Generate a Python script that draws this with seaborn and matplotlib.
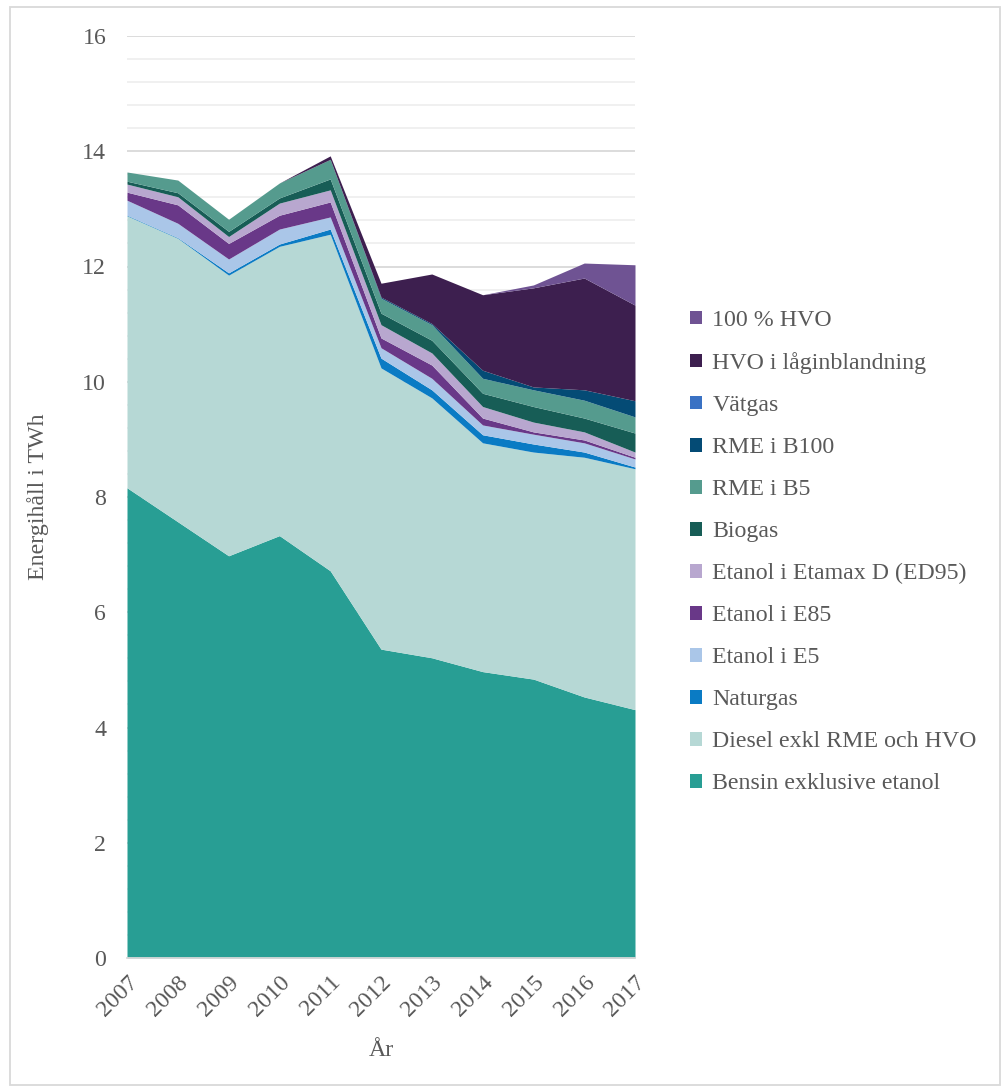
import numpy as np
import pandas as pd
import matplotlib
matplotlib.use("Agg")
import matplotlib.pyplot as plt
import seaborn as sns
from matplotlib.patches import Rectangle, Patch
from matplotlib.ticker import MultipleLocator

# Energy use per fuel (TWh), 2007-2017
years = [2007, 2008, 2009, 2010, 2011, 2012, 2013, 2014, 2015, 2016, 2017]
bensin = [8.16, 7.57, 6.98, 7.33, 6.72, 5.36, 5.21, 4.97, 4.84, 4.53, 4.31]
diesel = [4.72, 4.92, 4.87, 5.02, 5.84, 4.88, 4.51, 3.97, 3.94, 4.16, 4.18]
naturgas = [0.01, 0.01, 0.04, 0.04, 0.09, 0.17, 0.14, 0.14, 0.14, 0.09, 0.03]
etanol_e5 = [0.26, 0.25, 0.24, 0.26, 0.21, 0.18, 0.20, 0.17, 0.17, 0.16, 0.14]
etanol_e85 = [0.14, 0.32, 0.27, 0.24, 0.26, 0.17, 0.23, 0.12, 0.04, 0.05, 0.03]
etanol_ed95 = [0.14, 0.14, 0.12, 0.21, 0.21, 0.23, 0.21, 0.20, 0.17, 0.14, 0.09]
biogas = [0.05, 0.07, 0.09, 0.09, 0.19, 0.20, 0.22, 0.23, 0.27, 0.24, 0.33]
rme_b5 = [0.16, 0.22, 0.21, 0.26, 0.34, 0.26, 0.27, 0.26, 0.29, 0.31, 0.28]
rme_b100 = [0.0, 0.0, 0.0, 0.0, 0.0, 0.02, 0.02, 0.14, 0.05, 0.18, 0.28]
vatgas = [0.0, 0.0, 0.0, 0.0, 0.0, 0.0, 0.0, 0.0, 0.0, 0.0, 0.0]
hvo_lag = [0.0, 0.0, 0.0, 0.0, 0.06, 0.24, 0.86, 1.31, 1.72, 1.94, 1.66]
hvo_100 = [0.0, 0.0, 0.0, 0.0, 0.0, 0.0, 0.0, 0.0, 0.05, 0.26, 0.70]

labels = ["Bensin exklusive etanol", "Diesel exkl RME och HVO", "Naturgas",
          "Etanol i E5", "Etanol i E85", "Etanol i Etamax D (ED95)", "Biogas",
          "RME i B5", "RME i B100", "Vätgas", "HVO i låginblandning", "100 % HVO"]
colors = ["#289e94", "#b6d8d5", "#0a7bc4", "#aac6e8", "#693888", "#b8a7cf",
          "#175d56", "#559b8e", "#044b75", "#3a72c4", "#3d1f4f", "#6f5393"]

df = pd.DataFrame({
    labels[0]: bensin, labels[1]: diesel, labels[2]: naturgas,
    labels[3]: etanol_e5, labels[4]: etanol_e85, labels[5]: etanol_ed95,
    labels[6]: biogas, labels[7]: rme_b5, labels[8]: rme_b100,
    labels[9]: vatgas, labels[10]: hvo_lag, labels[11]: hvo_100,
}, index=years)

sns.set_theme(style="white")
plt.rcParams["font.family"] = ["Liberation Serif", "DejaVu Serif"]
text_color = "#595959"
fs = 17.2

fig = plt.figure(figsize=(10.04, 10.88), dpi=100)
ax = fig.add_axes([127 / 1004, 1 - 958 / 1088, 508 / 1004, 922 / 1088])

ax.stackplot(df.index, [df[c].values for c in labels], colors=colors,
             linewidth=0, zorder=3)

ax.set_xlim(2007, 2017)
ax.set_ylim(0, 16)
ax.yaxis.set_major_locator(MultipleLocator(2))
ax.yaxis.set_minor_locator(MultipleLocator(0.4))
ax.grid(which="major", axis="y", color="#d9d9d9", linewidth=1.3, zorder=0)
ax.grid(which="minor", axis="y", color="#efefef", linewidth=1.3, zorder=0)
ax.set_axisbelow(True)
ax.set_xticks(years)
for s in ["left", "right", "top"]:
    ax.spines[s].set_visible(False)
ax.spines["bottom"].set_color("#d9d9d9")
ax.spines["bottom"].set_linewidth(1.3)
ax.spines["bottom"].set_zorder(4)

ax.tick_params(axis="both", which="both", length=0, labelsize=fs,
               labelcolor=text_color)
ax.tick_params(axis="y", pad=15)
ax.tick_params(axis="x", pad=10)
ax.set_yticklabels([f"{int(v)}" for v in ax.get_yticks()])
for lbl in ax.get_xticklabels():
    lbl.set_rotation(45)
    lbl.set_ha("right")
    lbl.set_rotation_mode("anchor")

ax.set_xlabel("År", fontsize=fs, color=text_color, labelpad=14)
ax.set_ylabel("Energihåll i TWh", fontsize=fs, color=text_color, labelpad=24)

handles = [Patch(facecolor=c, edgecolor="none") for c in colors][::-1]
fig.legend(handles, labels[::-1], loc="upper left",
           bbox_to_anchor=(690 / 1004, 1 - 310 / 1088),
           bbox_transform=fig.transFigure, frameon=False, fontsize=fs,
           labelcolor=text_color, handlelength=0.52, handleheight=0.52,
           handletextpad=0.42, labelspacing=0.88, borderpad=0, borderaxespad=0)

fig.patches.append(Rectangle((10 / 1004, 3 / 1088), 990 / 1004, 1078 / 1088,
                             transform=fig.transFigure, fill=False,
                             edgecolor="#d9d9d9", linewidth=1.3))

fig.savefig("out.png", dpi=100, facecolor="white")
